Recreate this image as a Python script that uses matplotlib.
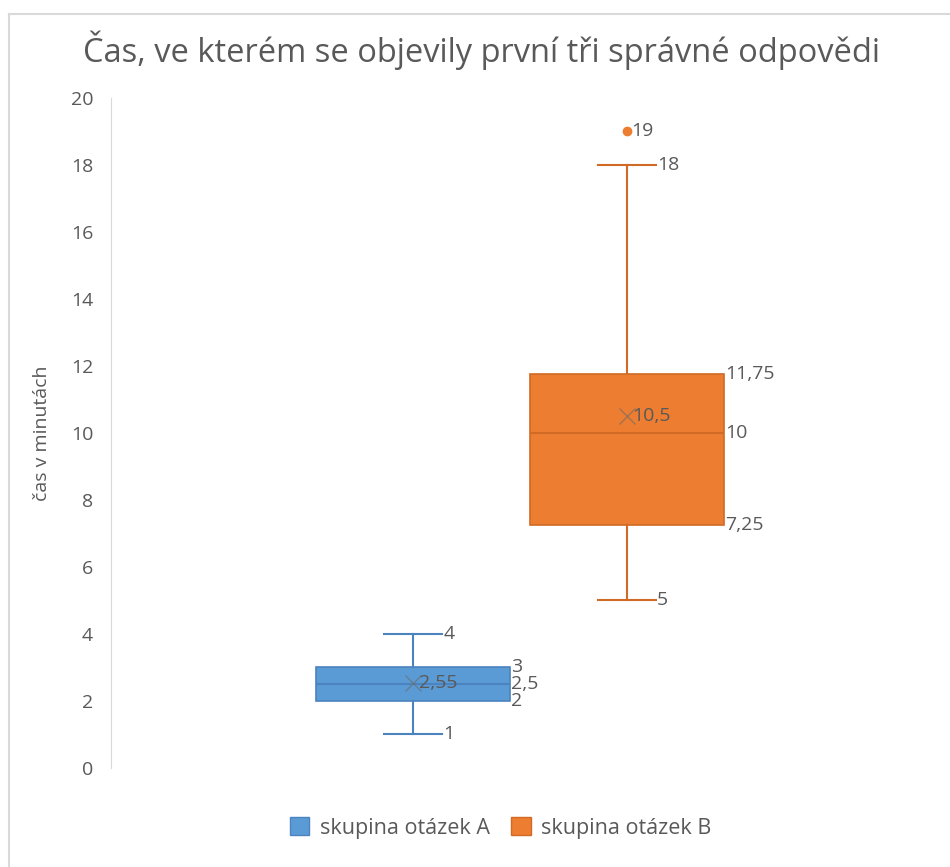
import matplotlib.pyplot as plt
from matplotlib.patches import Patch
from matplotlib.lines import Line2D

plt.rcParams['font.family'] = ['Open Sans', 'DejaVu Sans']

# statistiky pro obe skupiny otazek
skupiny = ['skupina otázek A', 'skupina otázek B']
minima = [1, 5]
q1 = [2, 7.25]
mediany = [2.5, 10]
q3 = [3, 11.75]
maxima = [4, 18]
prumery = [2.55, 10.5]
odlehle = [[], [19]]

pozice = [0.3665, 0.626]
barvy = ['#5B9BD5', '#ED7D31']
okraje = ['#4A83BE', '#D06A24']
text_barva = '#595959'

def fmt(v):
    return ('%g' % v).replace('.', ',')

fig = plt.figure(figsize=(9.5, 8.67), dpi=100)
ax = fig.add_axes([0.117, 0.1142, 0.867, 0.7728])

for i in range(2):
    st = [dict(whislo=minima[i], q1=q1[i], med=mediany[i], q3=q3[i],
               whishi=maxima[i], mean=prumery[i], fliers=odlehle[i])]
    ax.bxp(st, positions=[pozice[i]], widths=0.235, capwidths=0.07,
           patch_artist=True, showmeans=True,
           boxprops=dict(facecolor=barvy[i], edgecolor=okraje[i], linewidth=1.2),
           whiskerprops=dict(color=okraje[i], linewidth=1.5),
           capprops=dict(color=okraje[i], linewidth=1.5),
           medianprops=dict(color=okraje[i], linewidth=1.5),
           meanprops=dict(marker='x', markeredgecolor='#6b6b6b', markersize=12,
                          markeredgewidth=1.0, alpha=0.6),
           flierprops=dict(marker='o', markerfacecolor=barvy[i],
                           markeredgecolor=barvy[i], markersize=6))

    pravy_okraj = pozice[i] + 0.235 / 2
    konec_usky = pozice[i] + 0.035
    kw = dict(color=text_barva, fontsize=14, va='center', ha='left',
              textcoords='offset points')
    for v in (q1[i], mediany[i], q3[i]):
        ax.annotate(fmt(v), (pravy_okraj, v), xytext=(1, 0), **kw)
    for v in (minima[i], maxima[i]):
        ax.annotate(fmt(v), (konec_usky, v), xytext=(1, 0), **kw)
    ax.annotate(fmt(prumery[i]), (pozice[i], prumery[i]), xytext=(4, 0), **kw)
    for v in odlehle[i]:
        ax.annotate(fmt(v), (pozice[i], v), xytext=(3, 0), **kw)

ax.set_xlim(0, 1)
ax.set_ylim(0, 20)
ax.set_yticks(range(0, 21, 2))
ax.set_xticks([])
ax.tick_params(axis='y', length=0, pad=13, labelsize=14, labelcolor=text_barva)
for s in ('top', 'right', 'bottom'):
    ax.spines[s].set_visible(False)
ax.spines['left'].set_color('#d9d9d9')
ax.set_ylabel('čas v minutách', fontsize=14, color=text_barva, labelpad=14)

fig.text(0.507, 0.942, 'Čas, ve kterém se objevily první tři správné odpovědi',
         ha='center', va='center', fontsize=23.5, color=text_barva)

handles = [Patch(facecolor=barvy[i], edgecolor=okraje[i], label=skupiny[i])
           for i in range(2)]
fig.legend(handles=handles, loc='center', bbox_to_anchor=(0.527, 0.045), ncol=2,
           frameon=False, fontsize=15.5, labelcolor=text_barva,
           handlelength=0.9, handleheight=0.9, columnspacing=1.0, handletextpad=0.5)

# ramecek grafu
fig.add_artist(Line2D([0.009, 1.0], [0.984, 0.984], color='#d9d9d9', linewidth=1.5))
fig.add_artist(Line2D([0.009, 0.009], [0.0, 0.984], color='#d9d9d9', linewidth=1.5))

fig.savefig('out.png', dpi=100)
